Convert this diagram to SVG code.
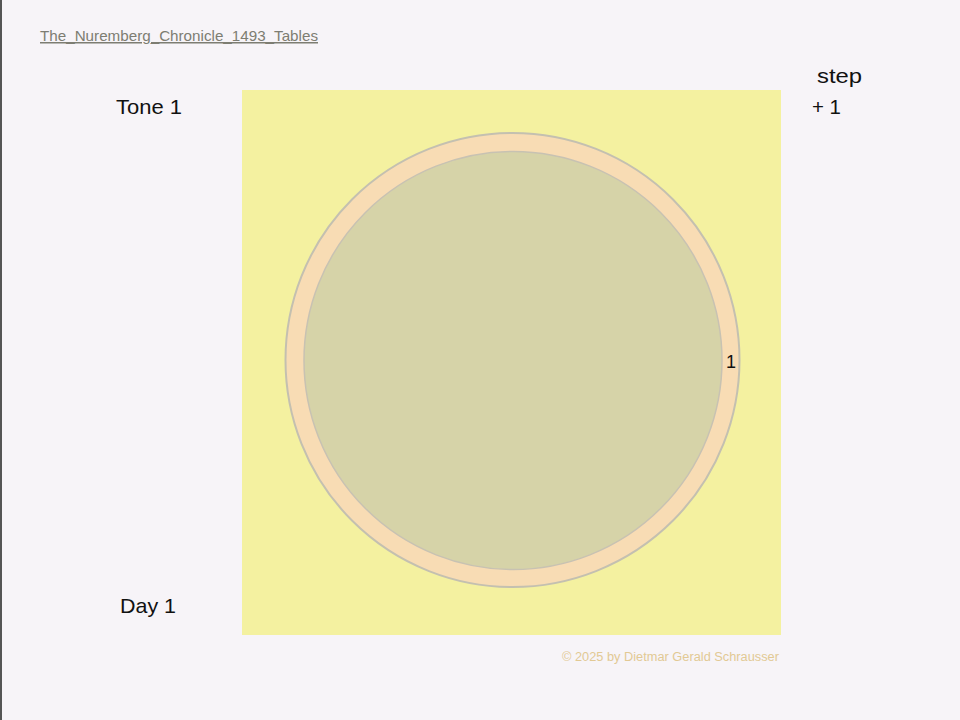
<svg xmlns="http://www.w3.org/2000/svg" width="960" height="720" viewBox="0 0 960 720">
<style>
.lbl{font-family:"Liberation Sans",Arial,sans-serif;fill:#111;font-size:21px;}
</style>
<rect x="0" y="0" width="960" height="720" fill="#f7f4f8"/>
<line x1="1" y1="0" x2="1" y2="720" stroke="#555" stroke-width="2"/>
<g id="title">
<text x="40" y="41" font-family="Liberation Sans,Arial,sans-serif" font-size="15" fill="#7d7d72" text-decoration="underline" textLength="278" lengthAdjust="spacingAndGlyphs">The_Nuremberg_Chronicle_1493_Tables</text>
</g>
<g id="board">
<rect x="242" y="90" width="539" height="545" fill="#f4f1a0"/>
</g>
<g id="outer-circle">
<circle cx="512.5" cy="360" r="227" fill="#f8dcb4" stroke="#c4c0b0" stroke-width="2"/>
</g>
<g id="inner-circle">
<circle cx="513" cy="360.5" r="209" fill="#d6d3a8" stroke="#c8c2b2" stroke-width="1.5"/>
</g>
<g id="labels">
<text class="lbl" x="731" y="368" font-size="18" style="font-size:18px" text-anchor="middle">1</text>
<text class="lbl" x="116" y="114" textLength="66" lengthAdjust="spacingAndGlyphs">Tone 1</text>
<text class="lbl" x="817" y="83" textLength="45" lengthAdjust="spacingAndGlyphs">step</text>
<text class="lbl" x="812" y="114" textLength="29" lengthAdjust="spacingAndGlyphs">+ 1</text>
<text class="lbl" x="120" y="613" textLength="56" lengthAdjust="spacingAndGlyphs">Day 1</text>
</g>
<g id="copyright">
<text x="562" y="661" font-family="Liberation Sans,Arial,sans-serif" font-size="12.5" fill="#e2c994" textLength="217" lengthAdjust="spacingAndGlyphs">© 2025 by Dietmar Gerald Schrausser</text>
</g>
</svg>
